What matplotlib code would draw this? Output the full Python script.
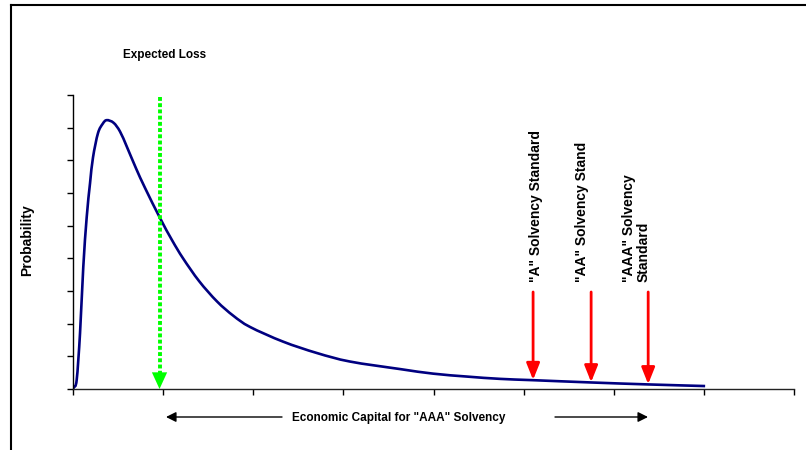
import numpy as np
import matplotlib
matplotlib.use('Agg')
import matplotlib.pyplot as plt
from matplotlib.lines import Line2D
from matplotlib.path import Path
from matplotlib.patches import PathPatch, FancyArrowPatch

# loss distribution
loss_x = [0, 0.011, 0.041, 0.078, 0.114, 0.152, 0.189, 0.222, 0.277, 0.33, 0.374,
          0.45, 0.522, 0.60, 0.70, 0.80, 0.966, 1.10, 1.221, 1.40, 1.598, 1.78,
          1.964, 2.331, 2.708, 3.074, 3.629, 3.996, 4.373, 4.739, 5.105, 5.749,
          6.382, 7.014]
loss_y = [0, 0.06, 0.28, 1.71, 3.73, 5.26, 6.30, 7.09, 7.83, 8.12, 8.23,
          8.15, 7.88, 7.40, 6.75, 6.15, 5.23, 4.55, 4.00, 3.30, 2.68, 2.24,
          1.90, 1.45, 1.10, 0.84, 0.61, 0.47, 0.38, 0.31, 0.27, 0.20,
          0.14, 0.09]

expected_loss = 0.96
el_top = 8.95
solvency_x = [5.105, 5.749, 6.382]
solvency_tip = [0.28, 0.21, 0.15]
solvency_top = 2.97
solvency_labels = ['"A" Solvency Standard', '"AA" Solvency Stand', '"AAA" Solvency\nStandard']
label_x = [5.133, 5.649, 6.249]
label_bottom = 3.27


def smooth_path(xs, ys):
    # Excel-style smoothed line: Catmull-Rom segments as cubic Beziers
    p = np.column_stack([xs, ys])
    ext = np.vstack([p[0], p, p[-1]])
    verts = [p[0]]
    codes = [Path.MOVETO]
    for i in range(1, len(ext) - 2):
        c1 = ext[i] + (ext[i + 1] - ext[i - 1]) / 6
        c2 = ext[i + 1] - (ext[i + 2] - ext[i]) / 6
        verts += [c1, c2, ext[i + 1]]
        codes += [Path.CURVE4] * 3
    return Path(verts, codes)


plt.rcParams['font.family'] = ['Liberation Sans', 'DejaVu Sans']

fig = plt.figure(figsize=(8.06, 4.5), dpi=100)
ax = fig.add_axes([73 / 806, 1 - 389 / 450, 721 / 806, 294 / 450])

ax.add_patch(PathPatch(smooth_path(loss_x, loss_y), facecolor='none',
                       edgecolor='#000080', lw=1.9))
ax.set_xlim(0, 8)
ax.set_ylim(0, 9)
ax.set_xticks(np.arange(0, 9))
ax.set_yticks(np.arange(0, 10))
ax.set_xticklabels([])
ax.set_yticklabels([])
ax.tick_params(axis='both', direction='out', length=4, width=1, color='black')
for s in ['top', 'right']:
    ax.spines[s].set_visible(False)
for s in ['left', 'bottom']:
    ax.spines[s].set_linewidth(1)
ax.spines['bottom'].set_color('#222222')

# expected loss arrow (green dotted)
ax.plot([expected_loss, expected_loss], [el_top, 0.4], color='#00ff00', lw=2.8,
        linestyle=(0, (1, 0.6)))
ax.annotate('', xy=(expected_loss, 0), xytext=(expected_loss, 0.45),
            arrowprops=dict(arrowstyle='-|>,head_length=1.2,head_width=0.55',
                            color='#00ff00', lw=0, shrinkA=0, shrinkB=0))

# solvency arrows
for x, tip in zip(solvency_x, solvency_tip):
    ax.annotate('', xy=(x, tip), xytext=(x, solvency_top),
                arrowprops=dict(arrowstyle='-|>,head_length=1.0,head_width=0.4',
                                color='#ff0000', lw=2, shrinkA=0, shrinkB=0))
for x, lab in zip(label_x, solvency_labels):
    ax.text(x, label_bottom, lab, rotation=90, ha='center', va='bottom',
            fontsize=10, fontweight='bold', multialignment='left', linespacing=1.0)

fig.text(165 / 806, 1 - 55 / 450, 'Expected Loss', ha='center', va='center',
         fontsize=8.5, fontweight='bold')
fig.text(27 / 806, 1 - 240 / 450, 'Probability', ha='center', va='center',
         rotation=90, fontsize=10, fontweight='bold')
fig.text(399 / 806, 1 - 418 / 450, 'Economic Capital for "AAA" Solvency',
         ha='center', va='center', fontsize=8.5, fontweight='bold')

# capital span arrows
fig.patches.append(FancyArrowPatch(
    (282 / 806, 1 - 417 / 450), (166 / 806, 1 - 417 / 450), transform=fig.transFigure,
    arrowstyle='-|>,head_length=6,head_width=3', color='black', lw=1, shrinkA=0, shrinkB=0))
fig.patches.append(FancyArrowPatch(
    (555 / 806, 1 - 417 / 450), (648 / 806, 1 - 417 / 450), transform=fig.transFigure,
    arrowstyle='-|>,head_length=6,head_width=3', color='black', lw=1, shrinkA=0, shrinkB=0))

# outer frame (top and left only)
fig.lines.append(Line2D([11 / 806, 1], [1 - 5 / 450, 1 - 5 / 450], transform=fig.transFigure,
                        color='black', lw=1.5))
fig.lines.append(Line2D([11 / 806, 11 / 806], [0, 1 - 5 / 450], transform=fig.transFigure,
                        color='black', lw=1.5))

fig.savefig('out.png', dpi=100)
